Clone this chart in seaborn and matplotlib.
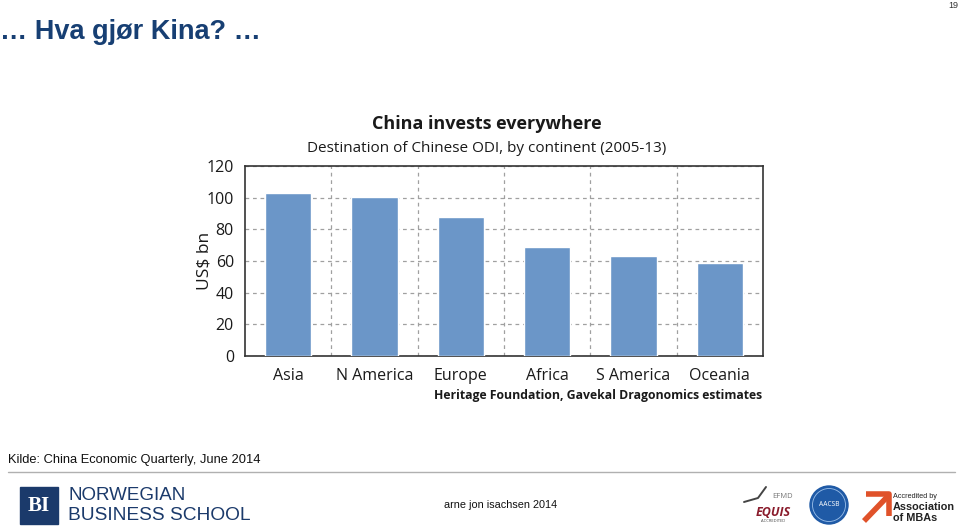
import matplotlib
matplotlib.use("Agg")
import matplotlib.pyplot as plt
import matplotlib.patches as mpatches
import seaborn as sns
import pandas as pd

# ---- data ----
continents = ["Asia", "N America", "Europe", "Africa", "S America", "Oceania"]
odi_usd_bn = [103, 100.5, 87.5, 69, 63, 59]
y_ticks = [0, 20, 40, 60, 80, 100, 120]

slide_title = "\u2026 Hva gjør Kina? \u2026"
chart_title = "China invests everywhere"
chart_subtitle = "Destination of Chinese ODI, by continent (2005-13)"
y_label = "US$ bn"
source_note = "Heritage Foundation, Gavekal Dragonomics estimates"
kilde = "Kilde: China Economic Quarterly, June 2014"
author = "arne jon isachsen 2014"
page_no = "19"

df = pd.DataFrame({"continent": continents, "value": odi_usd_bn})

sns.set_theme(style="white")
plt.rcParams["font.family"] = ["Open Sans", "DejaVu Sans"]

W, H = 960, 532
fig = plt.figure(figsize=(W / 100, H / 100), dpi=100)
fig.patch.set_facecolor("white")

def fx(px):
    return px / W

def fy(py):
    return 1 - py / H

left, right, top, bottom = 245, 763, 166, 356
ax = fig.add_axes([fx(left), fy(bottom), fx(right - left), (bottom - top) / H])

bar_color = "#6b96c8"
sns.barplot(data=df, x="continent", y="value", color=bar_color, width=0.54,
            saturation=1, ax=ax, zorder=3)

ax.set_xlim(-0.5, len(continents) - 0.5)
ax.set_ylim(0, 120)
ax.set_yticks(y_ticks)
ax.set_xticks([i + 0.5 for i in range(len(continents) - 1)], minor=True)
ax.grid(True, which="major", axis="y", linestyle=(0, (3, 3)), color="#a0a0a0", linewidth=0.9, zorder=0)
ax.grid(True, which="minor", axis="x", linestyle=(0, (3, 3)), color="#a0a0a0", linewidth=0.9, zorder=0)
ax.grid(False, which="major", axis="x")
ax.set_axisbelow(True)
for s in ax.spines.values():
    s.set_visible(True)
    s.set_color("#333333")
    s.set_linewidth(1.2)
ax.tick_params(axis="both", which="both", length=0, labelsize=11.5, colors="#1a1a1a")
ax.tick_params(axis="y", pad=8)
ax.tick_params(axis="x", pad=9)
ax.set_xlabel("")
ax.set_ylabel(y_label, fontsize=12.5, color="#1a1a1a", labelpad=-4)

# chart titles
fig.text(fx(487), fy(124), chart_title, ha="center", va="center", fontsize=13,
         fontweight="bold", color="#1a1a1a")
fig.text(fx(487), fy(148), chart_subtitle, ha="center", va="center", fontsize=11,
         color="#1a1a1a")
fig.text(fx(762), fy(396), source_note, ha="right", va="center", fontsize=8.8,
         fontweight="bold", color="#1a1a1a")

# slide decorations
fig.text(fx(0), fy(32), slide_title, ha="left", va="center", fontsize=19.5,
         fontweight="bold", color="#173f73", family=["Liberation Sans", "DejaVu Sans"])
fig.text(fx(958), fy(5), page_no, ha="right", va="center", fontsize=6.5,
         color="#333333", family=["Liberation Sans", "DejaVu Sans"])
fig.text(fx(8), fy(460), kilde, ha="left", va="center", fontsize=9.3,
         color="#111111", family=["Liberation Sans", "DejaVu Sans"])
fig.add_artist(plt.Line2D([fx(8), fx(955)], [fy(472), fy(472)], color="#b0b0b0", linewidth=1))

# BI logo
fig.add_artist(mpatches.Rectangle((fx(20), fy(524)), fx(38), 37 / H, color="#1b3a6b", transform=fig.transFigure))
fig.text(fx(39), fy(506), "BI", ha="center", va="center", fontsize=15, fontweight="bold",
         color="white", family=["Liberation Serif", "DejaVu Serif"])
fig.text(fx(68), fy(495), "NORWEGIAN", ha="left", va="center", fontsize=13.5,
         color="#1b3a6b", family=["Liberation Sans Narrow", "Liberation Sans"], fontweight="light")
fig.text(fx(68), fy(515), "BUSINESS SCHOOL", ha="left", va="center", fontsize=13.8,
         color="#1b3a6b", family=["Liberation Sans Narrow", "Liberation Sans"], fontweight="light")

fig.text(fx(501), fy(505), author, ha="center", va="center", fontsize=7.8,
         color="#111111", family=["Liberation Sans", "DejaVu Sans"])

# EQUIS logo
fig.add_artist(plt.Line2D([fx(744), fx(758), fx(766)], [fy(502), fy(498), fy(487)], color="#444444", linewidth=1.4))
fig.text(fx(772), fy(497), "EFMD", ha="left", va="center", fontsize=5.5, color="#777777")
fig.text(fx(773), fy(512), "EQUIS", ha="center", va="center", fontsize=9, fontweight="bold",
         style="italic", color="#8a1c2c")
fig.text(fx(773), fy(521), "ACCREDITED", ha="center", va="center", fontsize=3, color="#444444")

# AACSB logo
fig.add_artist(mpatches.Ellipse((fx(829), fy(505)), 38 / W, 38 / H, color="#1f5aa6", transform=fig.transFigure))
fig.add_artist(mpatches.Ellipse((fx(829), fy(505)), 33 / W, 33 / H, fill=False, edgecolor="#9cc0ea", linewidth=0.6, transform=fig.transFigure))
fig.text(fx(829), fy(504), "AACSB", ha="center", va="center", fontsize=4.8, color="white")

# AMBA logo
fig.add_artist(plt.Line2D([fx(864), fx(889)], [fy(521), fy(495)], color="#e0522a", linewidth=4, solid_capstyle="butt"))
fig.add_artist(plt.Line2D([fx(866), fx(889), fx(889)], [fy(494), fy(494), fy(516)], color="#e0522a", linewidth=4, solid_capstyle="butt"))
fig.text(fx(893), fy(497), "Accredited by", ha="left", va="center", fontsize=5.2, color="#222222",
         family=["Liberation Sans Narrow", "Liberation Sans"])
fig.text(fx(893), fy(507), "Association", ha="left", va="center", fontsize=7.8, fontweight="bold", color="#222222",
         family=["Liberation Sans Narrow", "Liberation Sans"])
fig.text(fx(893), fy(518), "of MBAs", ha="left", va="center", fontsize=7.8, fontweight="bold", color="#222222",
         family=["Liberation Sans Narrow", "Liberation Sans"])

fig.savefig("out.png", dpi=100)
